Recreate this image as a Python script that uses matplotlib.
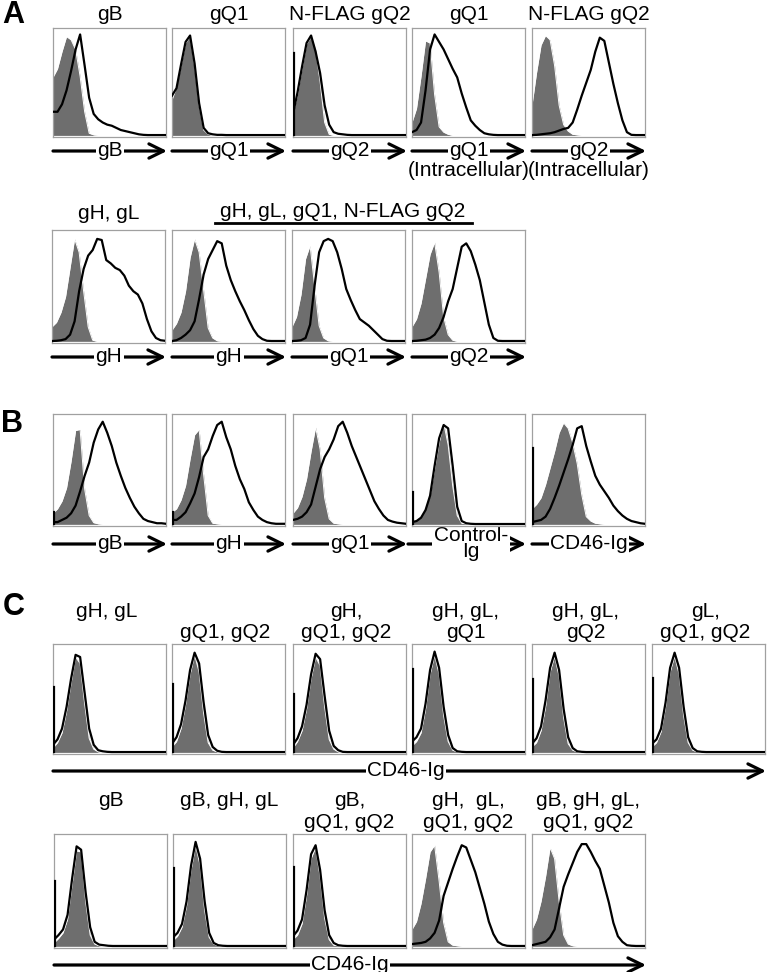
import matplotlib
matplotlib.use('Agg')
import matplotlib.pyplot as plt

plt.rcParams['font.family'] = ['Liberation Sans', 'DejaVu Sans']

# ---------------- data (histogram heights, % of max, on a channel grid) ----------------
channel = [0, 4, 8, 12, 16, 20, 24, 28, 32, 36, 40, 44, 48, 52, 56, 60, 64, 68, 72, 76, 80, 84, 88, 92, 96, 100]

# Panel A, row 1
a1_titles = ['gB', 'gQ1', 'N-FLAG gQ2', 'gQ1', 'N-FLAG gQ2']
a1_axis = ['gB', 'gQ1', 'gQ2', 'gQ1', 'gQ2']
a1_sub = ['', '', '', '(Intracellular)', '(Intracellular)']
a1_shaded = [
    [54, 62, 78, 92, 89, 80, 55, 22, 2, 0.5, 0, 0, 0, 0, 0, 0, 0, 0, 0, 0, 0, 0, 0, 0, 0, 0],
    [33, 45, 65, 86, 92, 65, 28, 5, 1, 0, 0, 0, 0, 0, 0, 0, 0, 0, 0, 0, 0, 0, 0, 0, 0, 0],
    [20, 38, 62, 85, 92, 80, 50, 12, 1, 0, 0, 0, 0, 0, 0, 0, 0, 0, 0, 0, 0, 0, 0, 0, 0, 0],
    [12, 25, 55, 88, 86, 38, 8, 3, 1, 0, 0, 0, 0, 0, 0, 0, 0, 0, 0, 0, 0, 0, 0, 0, 0, 0],
    [28, 58, 84, 93, 89, 65, 28, 10, 4, 1, 0.5, 0, 0, 0, 0, 0, 0, 0, 0, 0, 0, 0, 0, 0, 0, 0],
]
a1_outline = [
    [22, 22, 29, 42, 60, 80, 94, 65, 35, 20, 15, 12, 10, 9, 7, 5, 4, 3, 2, 1, 0.5, 0.3, 0.3, 0.3, 0.3, 0.3],
    [37, 44, 66, 87, 93, 67, 30, 7, 2, 1, 0.5, 0.5, 0.3, 0.3, 0.3, 0.3, 0.3, 0.3, 0.3, 0.3, 0.3, 0.3, 0.3, 0.3, 0.3, 0.3],
    [20, 40, 64, 86, 93, 78, 58, 28, 10, 3, 1.5, 1, 0.5, 0.3, 0.3, 0.3, 0.3, 0.3, 0.3, 0.3, 0.3, 0.3, 0.3, 0.3, 0.3, 0.3],
    [3, 5, 12, 42, 80, 94, 87, 80, 71, 62, 54, 39, 26, 14, 9, 5, 2, 1, 0.5, 0.3, 0.3, 0.3, 0.3, 0.3, 0.3, 0.3],
    [0.3, 0.5, 1, 1.5, 2, 3, 4.5, 6, 7, 12, 24, 37, 49, 61, 78, 91, 88, 68, 48, 30, 14, 3, 0.5, 0.3, 0.3, 0.3],
]
a1_spike = [0, 0, 77, 0, 0]

# Panel A, row 2
a2_titles = ['gH, gL']
a2_group = 'gH, gL, gQ1, N-FLAG gQ2'
a2_axis = ['gH', 'gH', 'gQ1', 'gQ2']
a2_shaded = [
    [13, 17, 26, 40, 66, 92, 80, 45, 13, 1, 0, 0, 0, 0, 0, 0, 0, 0, 0, 0, 0, 0, 0, 0, 0, 0],
    [10, 16, 26, 45, 75, 92, 80, 46, 12, 3, 0.5, 0, 0, 0, 0, 0, 0, 0, 0, 0, 0, 0, 0, 0, 0, 0],
    [13, 22, 42, 74, 86, 50, 14, 3, 0.5, 0, 0, 0, 0, 0, 0, 0, 0, 0, 0, 0, 0, 0, 0, 0, 0, 0],
    [13, 20, 34, 56, 78, 89, 62, 22, 6, 1, 0, 0, 0, 0, 0, 0, 0, 0, 0, 0, 0, 0, 0, 0, 0, 0],
]
a2_outline = [
    [0.3, 0.5, 1, 2, 6, 18, 45, 65, 77, 82, 92, 91, 73, 70, 66, 64, 59, 50, 45, 42, 34, 20, 9, 3, 1, 0.5],
    [0.3, 1, 3, 6, 10, 18, 38, 60, 74, 82, 90, 88, 68, 55, 45, 36, 28, 19, 11, 5, 2, 0.5, 0.3, 0.3, 0.3, 0.3],
    [0.3, 0.5, 1, 3, 15, 50, 80, 90, 92, 90, 80, 65, 47, 37, 28, 20, 17, 14, 10, 6, 2, 0.5, 0.3, 0.3, 0.3, 0.3],
    [0.3, 0.5, 1, 1.5, 3, 6, 12, 22, 36, 47, 66, 85, 88, 81, 69, 55, 35, 15, 3, 0.5, 0.3, 0.3, 0.3, 0.3, 0.3, 0.3],
]
a2_spike = [0, 0, 0, 0]

# Panel B
b_axis = ['gB', 'gH', 'gQ1', 'Control-\nIg', 'CD46-Ig']
b_shaded = [
    [10, 14, 21, 33, 57, 85, 86, 32, 8, 1.5, 0.5, 0, 0, 0, 0, 0, 0, 0, 0, 0, 0, 0, 0, 0, 0, 0],
    [11, 14, 22, 35, 59, 81, 86, 45, 8, 1, 0.5, 0, 0, 0, 0, 0, 0, 0, 0, 0, 0, 0, 0, 0, 0, 0],
    [10, 15, 25, 41, 66, 88, 68, 24, 5, 1, 0.5, 0, 0, 0, 0, 0, 0, 0, 0, 0, 0, 0, 0, 0, 0, 0],
    [2, 4, 8, 15, 26, 50, 74, 92, 72, 35, 8, 1, 0.5, 0, 0, 0, 0, 0, 0, 0, 0, 0, 0, 0, 0, 0],
    [14, 18, 24, 36, 51, 66, 83, 92, 87, 74, 55, 27, 7, 3, 1, 0.5, 0, 0, 0, 0, 0, 0, 0, 0, 0, 0],
]
b_outline = [
    [2, 2, 4, 6, 10, 17, 30, 44, 56, 74, 86, 93, 83, 71, 56, 44, 33, 24, 16, 10, 5, 3, 2, 1, 1, 0.5],
    [4, 4, 7, 11, 19, 28, 43, 61, 68, 80, 90, 93, 79, 68, 53, 41, 32, 20, 13, 7, 4, 2, 1, 0.5, 0.5, 0.5],
    [4, 5, 7, 11, 18, 34, 50, 61, 68, 77, 89, 93, 83, 71, 61, 51, 41, 31, 21, 14, 8, 4, 2.5, 1.5, 1, 0.5],
    [2, 3, 6, 13, 26, 53, 78, 90, 87, 53, 16, 3, 1, 0.5, 0.3, 0.3, 0.3, 0.3, 0.3, 0.3, 0.3, 0.3, 0.3, 0.3, 0.3, 0.3],
    [2, 3, 4, 7, 14, 24, 35, 47, 59, 72, 87, 89, 71, 57, 44, 36, 30, 24, 17, 12, 8, 5, 3, 2, 1, 0.5],
]
b_spike = [11, 11, 0, 29, 69]

# Panel C, row 1
c1_line1 = ['gH, gL', '', 'gH,', 'gH, gL,', 'gH, gL,', 'gL,']
c1_line2 = ['', 'gQ1, gQ2', 'gQ1, gQ2', 'gQ1', 'gQ2', 'gQ1, gQ2']
c1_shaded = [
    [4, 9, 18, 38, 64, 88, 82, 45, 13, 3, 0.5, 0, 0, 0, 0, 0, 0, 0, 0, 0, 0, 0, 0, 0, 0, 0],
    [5, 10, 22, 44, 72, 90, 74, 36, 9, 2, 0.5, 0, 0, 0, 0, 0, 0, 0, 0, 0, 0, 0, 0, 0, 0, 0],
    [4, 10, 20, 40, 68, 88, 80, 42, 12, 3, 0.5, 0, 0, 0, 0, 0, 0, 0, 0, 0, 0, 0, 0, 0, 0, 0],
    [6, 10, 18, 40, 72, 90, 72, 34, 10, 2, 0.5, 0, 0, 0, 0, 0, 0, 0, 0, 0, 0, 0, 0, 0, 0, 0],
    [5, 9, 20, 42, 74, 89, 70, 32, 8, 2, 0.5, 0, 0, 0, 0, 0, 0, 0, 0, 0, 0, 0, 0, 0, 0, 0],
    [5, 9, 19, 42, 74, 89, 72, 34, 9, 2, 0.5, 0, 0, 0, 0, 0, 0, 0, 0, 0, 0, 0, 0, 0, 0, 0],
]
c1_outline = [
    [7, 12, 22, 42, 68, 90, 88, 55, 22, 7, 2, 1, 0.5, 0.3, 0.3, 0.3, 0.3, 0.3, 0.3, 0.3, 0.3, 0.3, 0.3, 0.3, 0.3, 0.3],
    [8, 14, 26, 48, 76, 92, 82, 46, 16, 5, 1.5, 0.5, 0.3, 0.3, 0.3, 0.3, 0.3, 0.3, 0.3, 0.3, 0.3, 0.3, 0.3, 0.3, 0.3, 0.3],
    [7, 13, 24, 44, 72, 91, 86, 52, 20, 6, 2, 0.5, 0.3, 0.3, 0.3, 0.3, 0.3, 0.3, 0.3, 0.3, 0.3, 0.3, 0.3, 0.3, 0.3, 0.3],
    [10, 14, 22, 45, 76, 93, 78, 42, 16, 4, 1, 0.5, 0.3, 0.3, 0.3, 0.3, 0.3, 0.3, 0.3, 0.3, 0.3, 0.3, 0.3, 0.3, 0.3, 0.3],
    [8, 13, 24, 48, 78, 92, 76, 40, 14, 4, 1, 0.5, 0.3, 0.3, 0.3, 0.3, 0.3, 0.3, 0.3, 0.3, 0.3, 0.3, 0.3, 0.3, 0.3, 0.3],
    [8, 12, 22, 46, 78, 92, 78, 42, 14, 4, 1, 0.5, 0.3, 0.3, 0.3, 0.3, 0.3, 0.3, 0.3, 0.3, 0.3, 0.3, 0.3, 0.3, 0.3, 0.3],
]
c1_spike = [60, 63, 54, 77, 68, 69]

# Panel C, row 2
c2_line1 = ['gB', 'gB, gH, gL', 'gB,', 'gH,  gL,', 'gB, gH, gL,']
c2_line2 = ['', '', 'gQ1, gQ2', 'gQ1, gQ2', 'gQ1, gQ2']
c2_shaded = [
    [3, 7, 12, 24, 55, 85, 84, 40, 10, 2, 0.5, 0, 0, 0, 0, 0, 0, 0, 0, 0, 0, 0, 0, 0, 0, 0],
    [5, 9, 17, 36, 68, 90, 72, 32, 8, 2, 0.5, 0, 0, 0, 0, 0, 0, 0, 0, 0, 0, 0, 0, 0, 0, 0],
    [6, 10, 20, 45, 78, 88, 62, 25, 6, 1, 0.5, 0, 0, 0, 0, 0, 0, 0, 0, 0, 0, 0, 0, 0, 0, 0],
    [15, 22, 38, 60, 84, 90, 58, 21, 4, 1, 0.5, 0, 0, 0, 0, 0, 0, 0, 0, 0, 0, 0, 0, 0, 0, 0],
    [15, 24, 40, 62, 88, 78, 40, 10, 2, 0.5, 0, 0, 0, 0, 0, 0, 0, 0, 0, 0, 0, 0, 0, 0, 0, 0],
]
c2_outline = [
    [6, 10, 15, 28, 60, 89, 86, 48, 17, 4, 1.5, 1, 0.5, 0.3, 0.3, 0.3, 0.3, 0.3, 0.3, 0.3, 0.3, 0.3, 0.3, 0.3, 0.3, 0.3],
    [8, 12, 20, 40, 72, 93, 78, 40, 12, 3, 1, 0.5, 0.3, 0.3, 0.3, 0.3, 0.3, 0.3, 0.3, 0.3, 0.3, 0.3, 0.3, 0.3, 0.3, 0.3],
    [9, 14, 24, 50, 82, 90, 68, 32, 10, 3, 1, 0.5, 0.3, 0.3, 0.3, 0.3, 0.3, 0.3, 0.3, 0.3, 0.3, 0.3, 0.3, 0.3, 0.3, 0.3],
    [2, 2.5, 3, 4, 7, 12, 23, 45, 57, 69, 80, 90, 88, 77, 66, 52, 38, 22, 11, 4, 1.5, 0.5, 0.3, 0.3, 0.3, 0.3],
    [1, 2, 3, 4, 8, 15, 34, 53, 64, 74, 84, 91, 91, 84, 76, 69, 54, 39, 21, 9, 4, 1, 0.5, 0.3, 0.3, 0.3],
]
c2_spike = [58, 70, 71, 0, 0]
c_axis = 'CD46-Ig'

# ---------------- layout (pixels) ----------------
W, H = 770, 972
PW = 113
GRAY = '#6e6e6e'
FS = 15

fig = plt.figure(figsize=(W / 100, H / 100), dpi=100)
ov = fig.add_axes([0, 0, 1, 1], zorder=0)
ov.set_xlim(0, W)
ov.set_ylim(H, 0)
ov.axis('off')


def panel(x, ytop, h, shaded, outline, spike):
    ax = fig.add_axes([x / W, 1 - (ytop + h) / H, PW / W, h / H], zorder=2)
    ax.fill_between(channel, 0, shaded, color=GRAY, lw=0, zorder=1)
    ax.plot(channel, shaded, color='white', lw=0.7, zorder=2)
    ax.plot(channel, outline, color='black', lw=1.6, zorder=3)
    if spike:
        ax.plot([0.7, 0.7], [0, spike], color='black', lw=1.6, zorder=4)
    ax.set_xlim(0, 100)
    ax.set_ylim(-1.5, 100)
    ax.set_xticks([])
    ax.set_yticks([])
    for s in ax.spines.values():
        s.set_color('#a0a0a0')
        s.set_linewidth(0.9)
    return ax


def arrow(x0, x1, y, label=None, lx=None, ls=1.0):
    ov.annotate('', xy=(x1, y), xytext=(x0, y),
                arrowprops=dict(arrowstyle='->,head_length=0.65,head_width=0.32',
                                lw=2.3, color='black', shrinkA=0, shrinkB=0,
                                mutation_scale=16))
    if label:
        if lx is None:
            lx = (x0 + x1) / 2
        ov.text(lx, y - 1, label, fontsize=FS, ha='center', va='center',
                linespacing=ls,
                bbox=dict(facecolor='white', edgecolor='none', pad=1.2))


# Letters
ov.text(13, 15, 'A', fontsize=22, fontweight='bold', ha='center', va='center')
ov.text(12, 424, 'B', fontsize=22, fontweight='bold', ha='center', va='center')
ov.text(14, 607, 'C', fontsize=22, fontweight='bold', ha='center', va='center')

# A row 1
a1_x = [53, 172, 293, 412, 532]
for i, x in enumerate(a1_x):
    panel(x, 28, 109, a1_shaded[i], a1_outline[i], a1_spike[i])
    ov.text(x + PW / 2, 15, a1_titles[i], fontsize=FS, ha='center', va='center')
    arrow(x, x + PW + 1, 151, a1_axis[i])
    if a1_sub[i]:
        ov.text(x + PW / 2, 171, a1_sub[i], fontsize=FS, ha='center', va='center')

# A row 2
a2_x = [52, 172, 292, 412]
for i, x in enumerate(a2_x):
    panel(x, 230, 113, a2_shaded[i], a2_outline[i], a2_spike[i])
    arrow(x, x + PW + 1, 357, a2_axis[i])
ov.text(a2_x[0] + PW / 2, 213, a2_titles[0], fontsize=FS, ha='center', va='center')
ov.text(343, 211, a2_group, fontsize=FS, ha='center', va='center')
ov.plot([215, 472], [223, 223], color='black', lw=2.0)

# B
b_x = [53, 172, 293, 412, 532]
for i, x in enumerate(b_x):
    panel(x, 414, 112, b_shaded[i], b_outline[i], b_spike[i])
    if i == 3:
        arrow(x - 4, x + PW + 1, 544, b_axis[i], lx=471, ls=0.8)
    else:
        arrow(x, x + PW + 1, 544, b_axis[i])

# C row 1
c1_x = [53, 172, 293, 412, 532, 652]
for i, x in enumerate(c1_x):
    panel(x, 644, 110, c1_shaded[i], c1_outline[i], c1_spike[i])
    if c1_line1[i]:
        ov.text(x + PW / 2 - 3, 611, c1_line1[i], fontsize=FS, ha='center', va='center')
    if c1_line2[i]:
        ov.text(x + PW / 2 - 3, 632, c1_line2[i], fontsize=FS, ha='center', va='center')
arrow(53, 766, 771, c_axis, lx=406)

# C row 2
c2_x = [54, 173, 293, 412, 532]
for i, x in enumerate(c2_x):
    panel(x, 834, 114, c2_shaded[i], c2_outline[i], c2_spike[i])
    if c2_line1[i]:
        ov.text(x + PW / 2, 800, c2_line1[i], fontsize=FS, ha='center', va='center')
    if c2_line2[i]:
        ov.text(x + PW / 2, 822, c2_line2[i], fontsize=FS, ha='center', va='center')
arrow(54, 646, 965, c_axis, lx=350)

fig.savefig('out.png', dpi=100)
